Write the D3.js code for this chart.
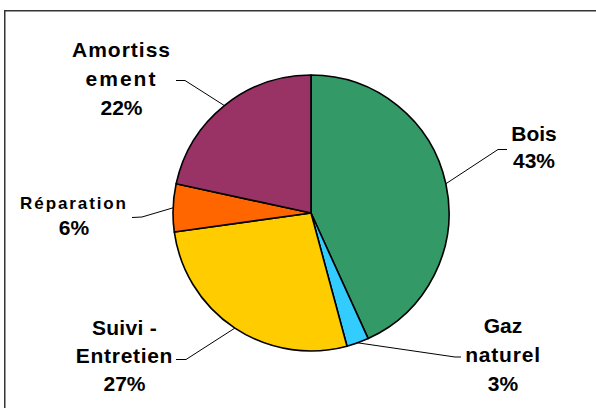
<!DOCTYPE html>
<html>
<head>
<meta charset="utf-8">
<script src="https://cdn.jsdelivr.net/npm/d3@7"></script>
<style>
  body { margin: 0; background: #fff; }
  svg { display: block; }
</style>
</head>
<body>
<div id="chart"></div>
<script>
'use strict';

// data (share of total, clockwise from 12 o'clock)
const categories = ['Bois', 'Gaz naturel', 'Suivi - Entretien', 'Réparation', 'Amortissement'];
const values = [43.2, 2.6, 27.0, 5.6, 21.6];
const label_lines = [
  ['Bois'],
  ['Gaz', 'naturel'],
  ['Suivi -', 'Entretien'],
  ['Réparation'],
  ['Amortiss', 'ement']
];
const colors = ['#339966', '#33ccff', '#ffcc00', '#ff6600', '#993366'];

// layout
const dims = { width: 596, height: 408, cx: 311, cy: 213, r: 138 };
const label_layout = [
  { x: 534, y: 141, step: 27, size: 21, spacing: [0],        elbow: [498, 149.5], end: [507, 149.5] },
  { x: 503, y: 333, step: 29, size: 21, spacing: [0, 0.8],   elbow: [455, 357],   end: [461, 357] },
  { x: 124.5, y: 335, step: 28, size: 21, spacing: [0.3, 0.7], elbow: [186, 359.5], end: [176, 359.5] },
  { x: 74, y: 209, step: 26, size: 17, spacing: [1.9],       elbow: [142, 217],   end: [132, 217.5] },
  { x: 121.5, y: 57, step: 29, size: 21, spacing: [1.0, 2.0], elbow: [185, 80.5], end: [176, 80.5] }
];

const svg = d3.select('#chart')
  .append('svg')
  .attr('width', dims.width)
  .attr('height', dims.height);

// frame (runs off the right and bottom edges)
svg.append('rect')
  .attr('x', 4.75)
  .attr('y', 10.75)
  .attr('width', 700)
  .attr('height', 500)
  .attr('fill', 'none')
  .attr('stroke', '#333')
  .attr('stroke-width', 1.5);

const total = d3.sum(values);
const data = categories.map((c, i) => ({ key: c, value: values[i], i: i }));

const pie = d3.pie()
  .value(d => d.value)
  .sort(null);

const arc = d3.arc()
  .innerRadius(0)
  .outerRadius(dims.r);

const arcs = pie(data);

const chart_g = svg.append('g')
  .attr('transform', `translate(${dims.cx},${dims.cy})`);

chart_g.selectAll('path')
  .data(arcs)
  .join('path')
  .attr('d', arc)
  .attr('fill', d => colors[d.data.i])
  .attr('stroke', '#000')
  .attr('stroke-width', 1.6)
  .attr('stroke-linejoin', 'round');

// leader lines: from the arc edge at the slice's mid angle
const leaders = svg.append('g')
  .attr('fill', 'none')
  .attr('stroke', '#000')
  .attr('stroke-width', 1);

arcs.forEach(a => {
  const lay = label_layout[a.data.i];
  const mid = (a.startAngle + a.endAngle) / 2;
  const sx = dims.cx + dims.r * Math.sin(mid);
  const sy = dims.cy - dims.r * Math.cos(mid);
  leaders.append('polyline')
    .attr('points', [[sx, sy], lay.elbow, lay.end].map(p => p.join(',')).join(' '));
});

// labels
const labels = svg.append('g')
  .attr('font-family', '"Liberation Sans", Arial, Helvetica, sans-serif')
  .attr('font-weight', 'bold')
  .attr('text-anchor', 'middle')
  .attr('fill', '#000');

arcs.forEach(a => {
  const lay = label_layout[a.data.i];
  const lines = label_lines[a.data.i].concat([Math.round(a.data.value / total * 100) + '%']);
  lines.forEach((txt, k) => {
    const is_pct = k === lines.length - 1;
    labels.append('text')
      .attr('x', lay.x)
      .attr('y', lay.y + k * lay.step)
      .attr('font-size', (is_pct ? 21 : lay.size) + 'px')
      .style('letter-spacing', (is_pct ? 0 : lay.spacing[k]) + 'px')
      .text(txt);
  });
});
</script>
</body>
</html>
